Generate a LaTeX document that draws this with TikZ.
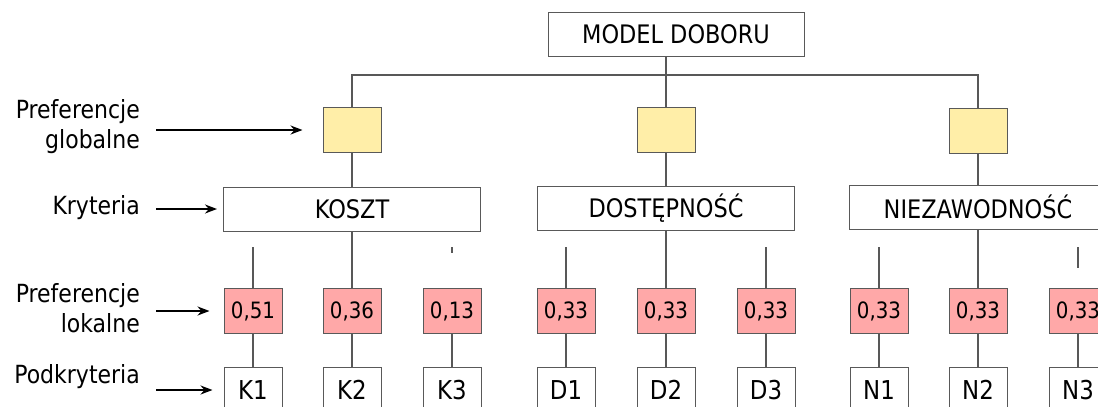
\documentclass[tikz,border=0pt]{standalone}
\usepackage{fontspec}
\setmainfont{DejaVu Sans}[FakeStretch=0.88]
\usetikzlibrary{arrows.meta}
\definecolor{globfill}{RGB}{255,238,168}
\definecolor{lokfill}{RGB}{255,168,168}
\definecolor{linegray}{RGB}{88,88,88}
\tikzset{
  box/.style={draw=black!65,line width=1pt,inner sep=0pt,minimum height=44pt,font=\fontsize{25.5}{30}\selectfont},
  critbox/.style={box,minimum width=257pt},
  globbox/.style={box,fill=globfill,minimum width=58pt,minimum height=45pt},
  lokbox/.style={box,fill=lokfill,minimum width=58pt,minimum height=45pt,font=\fontsize{22.5}{26}\selectfont},
  subbox/.style={box,minimum width=58pt,minimum height=45pt,font=\fontsize{26}{30}\selectfont},
  lab/.style={anchor=east,align=right,inner sep=0pt,font=\fontsize{25}{30}\selectfont},
  conn/.style={draw=linegray,line width=2pt},
  thinconn/.style={draw=linegray,line width=1.3pt},
  arr/.style={-{Stealth[length=12pt,width=9pt]},line width=1.8pt,shorten <=16pt}
}

\begin{document}
\begin{tikzpicture}[x=1pt,y=-1pt]
\useasboundingbox (0,0) rectangle (1098,407);
\clip (0,0) rectangle (1098,407);
\node[box,minimum width=256pt] (model) at (676,34) {MODEL DOBORU};
\node[globbox] (gK) at (352,130) {};
\node[globbox] (gD) at (666,130) {};
\node[globbox] (gN) at (978,131) {};
\node[critbox] (cK) at (352,209) {KOSZT};
\node[critbox] (cD) at (666,208) {DOSTĘPNOŚĆ};
\node[critbox] (cN) at (978,207) {NIEZAWODNOŚĆ};
\foreach \n/\x/\v in {K1/253/{0,51},K2/352/{0,36},K3/452/{0,13},D1/566/{0,33},D2/666/{0,33},D3/766/{0,33},N1/879/{0,33},N2/978/{0,33},N3/1078/{0,33}}{
  \node[lokbox] (p\n) at (\x,311) {\v};
  \node[subbox] (s\n) at (\x,390) {\n};
  \draw[conn] (p\n) -- (s\n);
}
\coordinate (bar) at (666,75);
\coordinate (stub) at (0,247);
\draw[conn] (model.south -| gD) -- (gD);
\draw[conn] (gK) -- (gK |- bar) -- (gN |- bar) -- (gN);
\foreach \c in {K,D,N} \draw[conn] (g\c) -- (c\c) (c\c) -- (p\c2);
\foreach \n in {K1,D1,D3,N1} \draw[thinconn] (p\n) -- (p\n |- stub);
\draw[thinconn] (pK3.north |- stub) -- ++(0,6);
\draw[thinconn] (pN3.north |- stub) -- ++(0,21);
\node[lab] (lG) at (140,127) {Preferencje\\globalne};
\node[lab] (lC) at (140,208) {Kryteria};
\node[lab] (lL) at (140,308) {Preferencje\\lokalne};
\node[lab] (lP) at (140,377) {Podkryteria};
\draw[arr,shorten >=20pt] (lG.east |- gK) -- (gK);
\draw[arr,shorten >=6pt] (lC.east |- cK) -- (cK);
\draw[arr,shorten >=14pt] (lL.east |- pK1) -- (pK1);
\draw[arr,shorten >=11pt] (lP.east |- sK1) -- (sK1);
\end{tikzpicture}
\end{document}
